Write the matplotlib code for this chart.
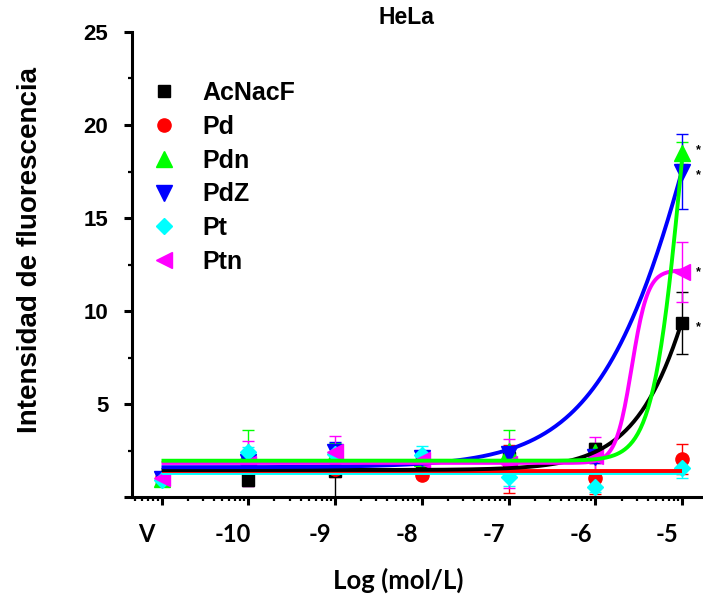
import numpy as np
import matplotlib
matplotlib.use("Agg")
import matplotlib.pyplot as plt
from matplotlib.lines import Line2D
from matplotlib.transforms import ScaledTranslation

# %% DATA
x_pos = [-11, -10, -9, -8, -7, -6, -5]
x_labels = ["V", "-10", "-9", "-8", "-7", "-6", "-5"]

names = ["AcNacF", "Pd", "Pdn", "PdZ", "Pt", "Ptn"]
colors = ["black", "red", "#00ff00", "#0000ff", "#00ffff", "#ff00ff"]
markers = ["s", "o", "^", "v", "D", "<"]
msizes = [9, 10.5, 12, 12, 9, 12]

acnacf = [1.0, 0.9, 1.4, 1.9, 2.1, 2.6, 9.35]
acnacf_err = [0.1, 0.3, 1.45, 0.3, 0.4, 0.3, 1.65]
pd_ = [1.0, 1.6, 1.5, 1.2, 1.5, 1.0, 2.05]
pd_err = [0.1, 0.3, 0.4, 0.2, 1.3, 0.85, 0.8]
pdn = [0.95, 2.4, 2.3, 2.1, 2.5, 2.4, 18.5]
pdn_err = [0.1, 1.2, 0.6, 0.4, 1.1, 0.3, 0.6]
pdz = [0.95, 1.9, 2.4, 2.1, 2.3, 2.15, 17.5]
pdz_err = [0.1, 0.3, 0.55, 0.3, 0.4, 0.3, 2.0]
pt = [0.9, 2.4, 2.3, 2.25, 1.1, 0.55, 1.55]
pt_err = [0.1, 0.3, 0.3, 0.5, 0.5, 0.3, 0.55]
ptn = [1.0, 1.8, 2.4, 2.0, 1.8, 2.2, 12.1]
ptn_err = [0.1, 1.2, 0.9, 0.3, 1.3, 1.0, 1.6]

# fitted dose-response curves: bottom, top, logEC50, hill slope
fit_bottom = [1.45, 1.4, 1.95, 1.6, 1.3, 1.83]
fit_top = [41.45, 1.4, 34.5, 48.0, 1.3, 12.2]
fit_logec50 = [-4.4, -5.0, -5.0, -4.6, -5.0, -5.58]
fit_hill = [1.0, 1.0, 2.6, 0.7, 1.0, 4.7]

values = [acnacf, pd_, pdn, pdz, pt, ptn]
errors = [acnacf_err, pd_err, pdn_err, pdz_err, pt_err, ptn_err]

# %% FIGURE
W, H = 703, 604
fig = plt.figure(figsize=(W / 100, H / 100), dpi=100)
ax = fig.add_axes([132 / W, 1 - 497 / H, (W - 132) / W, (497 - 32) / H])

for i in range(len(names)):
    ax.errorbar(x_pos, values[i], yerr=errors[i], fmt="none", ecolor=colors[i],
                elinewidth=1, capsize=4.5, capthick=1, zorder=2)
    ax.plot(x_pos, values[i], linestyle="none", marker=markers[i], ms=msizes[i] - 1,
            color=colors[i], mec=colors[i], zorder=3)

# fitted curves drawn over the points
xx = np.linspace(-11, -5, 400)
line_order = [4, 1, 0, 3, 5, 2]
for n, i in enumerate(line_order):
    b, t, c, h = fit_bottom[i], fit_top[i], fit_logec50[i], fit_hill[i]
    yy = b + (t - b) / (1 + 10 ** ((c - xx) * h))
    ax.plot(xx, yy, color=colors[i], lw=2.8, zorder=4 + n * 0.1, solid_capstyle="butt")

ax.set_xlim(-11.34, -4.76)
ax.set_ylim(0, 25)

# axes styling
for s in ["top", "right"]:
    ax.spines[s].set_visible(False)
for s in ["left", "bottom"]:
    ax.spines[s].set_linewidth(2.2)
    ax.spines[s].set_zorder(6)

ax.set_yticks([0, 5, 10, 15, 20, 25])
ax.set_yticklabels(["", "5", "10", "15", "20", "25"])
ax.set_yticks(np.arange(2.5, 25, 5), minor=True)
ax.set_xticks(x_pos)
ax.set_xticklabels(x_labels)

minor_x = []
for d in range(-12, -4):
    for k in range(2, 10):
        v = d + np.log10(k)
        if -11.34 < v < -4.76:
            minor_x.append(v)
ax.set_xticks(minor_x, minor=True)

ax.tick_params(axis="both", which="major", direction="out", length=6, width=2.2)
ax.tick_params(axis="both", which="minor", direction="out", length=3, width=1.6)
ax.tick_params(axis="y", which="major", pad=11)
ax.tick_params(axis="x", which="major", pad=13)

for lab in ax.get_yticklabels():
    lab.set_fontfamily("Liberation Sans")
    lab.set_fontweight("bold")
    lab.set_fontsize(16)
offset = ScaledTranslation(-15 / 100, 0, fig.dpi_scale_trans)
for lab in ax.get_xticklabels():
    lab.set_fontfamily("Lato")
    lab.set_fontweight("bold")
    lab.set_fontsize(17)
    lab.set_transform(lab.get_transform() + offset)

fig.text(398 / W, 1 - 580 / H, "Log (mol/L)", ha="center", va="center",
         fontsize=18.5, fontweight="bold", family="Lato")
fig.text(30 / W, 1 - 250 / H, "Intensidad de fluorescencia", ha="center", va="center",
         rotation=90, fontsize=20, fontweight="bold", family="Liberation Sans")
fig.text(406 / W, 1 - 18 / H, "HeLa", ha="center", va="center",
         fontsize=16.5, fontweight="bold", family="Liberation Sans")

# legend with markers only
handles = [Line2D([], [], linestyle="none", marker=markers[i], ms=msizes[i] - 1,
                  color=colors[i]) for i in range(len(names))]
leg = fig.legend(handles, names, loc="upper left", bbox_to_anchor=(151 / W, 1 - 81 / H),
                 frameon=False, handlelength=1.0, handletextpad=1.06, labelspacing=0.39,
                 borderpad=0, borderaxespad=0,
                 prop={"family": "Liberation Sans", "weight": "bold", "size": 18})

# significance marks at the right edge
for ypx in [150, 175, 272, 327]:
    fig.text(698 / W, 1 - ypx / H, "*", ha="center", va="center", fontsize=9,
             fontweight="bold", family="Liberation Sans")

fig.savefig("out.png", dpi=100)
